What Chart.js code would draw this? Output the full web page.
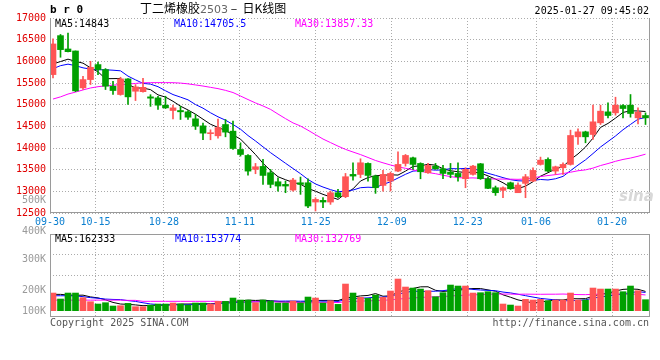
<!DOCTYPE html>
<html>
<head>
<meta charset="utf-8">
<script src="https://cdn.jsdelivr.net/npm/chart.js@4.4.1/dist/chart.umd.min.js"></script>
<style>
  html, body { margin: 0; padding: 0; background: #fff; }
  #wrap { position: relative; width: 660px; height: 360px; overflow: hidden; font-family: "DejaVu Sans Mono", monospace; font-size: 10px; }
  canvas { position: absolute; left: 0; }
  #kline { top: 0; }
  #vol { top: 230px; }
  .t { position: absolute; white-space: nowrap; line-height: 12px; }
  .vl { position: absolute; left: 0; width: 46px; text-align: right; color: #9a9a9a; line-height: 12px; }
</style>
</head>
<body>
<div id="wrap">
  <canvas id="kline" width="660" height="230"></canvas>
  <canvas id="vol" width="660" height="130"></canvas>

  <div class="t" style="left:50px;top:4px;font-size:11px;font-weight:bold;">b r 0</div>
  <div class="t" style="left:140px;top:2px;font-family:'Noto Sans CJK SC',sans-serif;font-size:12px;">丁二烯橡胶<span style="font-family:'DejaVu Sans',sans-serif;font-size:11px;color:#666;">2503</span> –&nbsp;&nbsp;日K线图</div>
  <div class="t" style="right:11px;top:5px;">2025-01-27 09:45:02</div>

  <div class="t" style="left:55px;top:18px;color:#000;">MA5:14843</div>
  <div class="t" style="left:174px;top:18px;color:#0000ff;">MA10:14705.5</div>
  <div class="t" style="left:295px;top:18px;color:#ff00ff;">MA30:13857.33</div>

  <div class="t" style="left:55px;top:233px;color:#000;">MA5:162333</div>
  <div class="t" style="left:175px;top:233px;color:#0000ff;">MA10:153774</div>
  <div class="t" style="left:295px;top:233px;color:#ff00ff;">MA30:132769</div>

  <div class="vl" style="top:194px;">500K</div>
  <div class="vl" style="top:225px;">400K</div>
  <div class="vl" style="top:253px;">300K</div>
  <div class="vl" style="top:284px;">200K</div>
  <div class="vl" style="top:305px;">100K</div>

  <div class="t" style="left:619px;top:190px;font-family:'DejaVu Sans',sans-serif;font-size:15px;font-weight:bold;font-style:italic;color:#d8d8d8;">sina</div>

  <div class="t" style="left:50px;top:317px;color:#555;">Copyright 2025 SINA.COM</div>
  <div class="t" style="right:11px;top:317px;color:#555;">http://finance.sina.com.cn</div>
</div>

<script>
var dates = [
	'09-30',
	'10-08', '10-09', '10-10', '10-11', '10-14', '10-15', '10-16', '10-17', '10-18', '10-21', '10-22', '10-23', '10-24', '10-25', '10-28', '10-29', '10-30', '10-31',
	'11-01', '11-04', '11-05', '11-06', '11-07', '11-08', '11-11', '11-12', '11-13', '11-14', '11-15', '11-18', '11-19', '11-20', '11-21', '11-22', '11-25', '11-26', '11-27', '11-28', '11-29',
	'12-02', '12-03', '12-04', '12-05', '12-06', '12-09', '12-10', '12-11', '12-12', '12-13', '12-16', '12-17', '12-18', '12-19', '12-20', '12-23', '12-24', '12-25', '12-26', '12-27', '12-30', '12-31',
	'01-02', '01-03', '01-06', '01-07', '01-08', '01-09', '01-10', '01-13', '01-14', '01-15', '01-16', '01-17', '01-20', '01-21', '01-22', '01-23', '01-24', '01-27'
];
var tickDates = ['09-30', '10-15', '10-28', '11-11', '11-25', '12-09', '12-23', '01-06', '01-20'];

var openP = [15694, 16593, 16285, 16239, 15387, 15579, 15925, 15810, 15426, 15234,
	15595, 15310, 15300, 15180, 15157, 14988, 14865, 14865, 14835, 14673,
	14511, 14330, 14281, 14542, 14389, 13966, 13828, 13506, 13575, 13429,
	13221, 13160, 13029, 13198, 13198, 12753, 12791, 12753, 12968, 12876,
	13391, 13390, 13644, 13352, 13137, 13237, 13467, 13644, 13774, 13644,
	13429, 13582, 13521, 13444, 13413, 13291, 13391, 13636, 13291, 13083,
	13022, 13198, 12968, 13183, 13237, 13621, 13736, 13467, 13544, 13621,
	14258, 14373, 14312, 14581, 14834, 14811, 14980, 14988, 14696, 14750];
var highP = [16520, 16620, 16650, 16240, 15656, 16002, 15980, 15833, 15540, 15633,
	15600, 15464, 15610, 15230, 15195, 15195, 14988, 14965, 14865, 14773,
	14574, 14420, 14666, 14658, 14619, 14120, 13851, 13644, 13736, 13506,
	13314, 13237, 13298, 13329, 13290, 12853, 12853, 13006, 13045, 13413,
	13659, 13751, 13659, 13375, 13483, 13444, 13913, 13851, 13790, 13659,
	13644, 13644, 13598, 13644, 13659, 13544, 13598, 13644, 13329, 13122,
	13106, 13214, 13198, 13390, 13544, 13790, 13774, 13582, 13659, 14412,
	14443, 14389, 14988, 14988, 15042, 15172, 15003, 15234, 14927, 14811];
var lowP = [15620, 16094, 16220, 15300, 15349, 15464, 15690, 15349, 15234, 15218,
	15003, 15095, 15290, 14960, 14888, 14911, 14673, 14658, 14658, 14427,
	14190, 14190, 14228, 14258, 13966, 13813, 13375, 13406, 13160, 13083,
	13006, 12968, 13006, 12930, 12622, 12546, 12622, 12699, 12853, 12853,
	13260, 13314, 13237, 12953, 13006, 13006, 13452, 13582, 13506, 13290,
	13413, 13506, 13291, 13314, 13237, 13083, 13375, 13275, 13060, 12906,
	12853, 13045, 12968, 12853, 13222, 13605, 13452, 13390, 13390, 13605,
	14082, 14120, 14197, 14542, 14696, 14757, 14696, 14711, 14558, 14542];
var closeP = [16401, 16270, 16223, 15318, 15579, 15863, 15810, 15426, 15326, 15595,
	15180, 15410, 15400, 15150, 14988, 14926, 14926, 14835, 14711, 14504,
	14343, 14345, 14472, 14366, 13989, 13851, 13467, 13567, 13367, 13160,
	13122, 13122, 13260, 13160, 12661, 12814, 12753, 12968, 12876, 13337,
	13352, 13659, 13367, 13083, 13390, 13413, 13621, 13828, 13621, 13452,
	13598, 13521, 13413, 13391, 13337, 13506, 13582, 13291, 13068, 12968,
	13083, 13060, 13145, 13337, 13483, 13720, 13467, 13567, 13621, 14289,
	14373, 14258, 14604, 14850, 14750, 14988, 14911, 14796, 14827, 14696];

var ma5 = [15940, 15995, 16050, 16000, 15958, 15851, 15759, 15599, 15601, 15604,
	15467, 15387, 15382, 15347, 15226, 15175, 15078, 14965, 14877, 14780,
	14664, 14548, 14475, 14406, 14303, 14205, 14029, 13848, 13648, 13482,
	13337, 13268, 13206, 13165, 13065, 13003, 12930, 12871, 12814, 12950,
	13057, 13238, 13318, 13360, 13370, 13382, 13375, 13467, 13575, 13587,
	13624, 13604, 13521, 13475, 13452, 13434, 13446, 13421, 13357, 13283,
	13198, 13094, 13065, 13119, 13222, 13349, 13430, 13515, 13572, 13733,
	13863, 14022, 14229, 14475, 14567, 14690, 14821, 14859, 14854, 14843];
var ma10 = [15830, 15900, 15935, 15900, 15850, 15820, 15805, 15805, 15795, 15781,
	15659, 15573, 15491, 15474, 15415, 15321, 15233, 15174, 15112, 15003,
	14919, 14813, 14720, 14642, 14542, 14434, 14288, 14162, 14027, 13893,
	13771, 13648, 13527, 13407, 13274, 13170, 13099, 13039, 12990, 13007,
	13030, 13084, 13095, 13087, 13160, 13220, 13307, 13393, 13467, 13479,
	13503, 13489, 13494, 13525, 13520, 13529, 13525, 13471, 13416, 13368,
	13316, 13270, 13243, 13238, 13252, 13274, 13262, 13290, 13345, 13477,
	13606, 13726, 13872, 14023, 14150, 14277, 14421, 14544, 14665, 14705];
var ma30 = [15130, 15180, 15245, 15290, 15340, 15385, 15415, 15435, 15450, 15462,
	15474, 15490, 15505, 15508, 15509, 15509, 15507, 15498, 15480, 15455,
	15430, 15400, 15370, 15330, 15280, 15200, 15118, 15040, 14970, 14892,
	14783, 14678, 14579, 14507, 14410, 14308, 14207, 14125, 14043, 13968,
	13907, 13848, 13781, 13712, 13658, 13608, 13565, 13531, 13495, 13460,
	13435, 13407, 13372, 13339, 13318, 13306, 13310, 13301, 13291, 13284,
	13283, 13281, 13277, 13283, 13311, 13341, 13365, 13385, 13409, 13441,
	13475, 13495, 13536, 13595, 13641, 13693, 13736, 13768, 13809, 13857];

var volume = [148800, 98300, 148800, 148800, 109500, 75800, 56200, 67400, 39300, 42100,
	61800, 33700, 33700, 47700, 56200, 56200, 64600, 56200, 47700, 64600,
	64600, 56200, 78600, 78600, 106700, 89900, 89900, 67400, 89900, 81400,
	64600, 64600, 81400, 64600, 115100, 106700, 64600, 84200, 53400, 224600,
	148800, 112300, 103900, 132000, 112300, 165700, 266800, 199400, 190900, 182500,
	168500, 117900, 151600, 216200, 207800, 207800, 148800, 151600, 160100, 151600,
	56200, 47700, 39300, 95500, 89900, 95500, 84200, 89900, 89900, 148800,
	89900, 89900, 190900, 182500, 182500, 182500, 160100, 207800, 168500, 92700];
var volMa5 = [137600, 137600, 132000, 130000, 130900, 116300, 107800, 91500, 69600, 56200,
	53400, 48900, 42100, 43800, 46600, 45500, 51700, 56200, 56200, 57800,
	59500, 57800, 62300, 68500, 76900, 82000, 88700, 86500, 88700, 83700,
	78600, 73600, 76400, 71300, 78100, 86500, 86500, 87000, 84800, 106700,
	115100, 124700, 128600, 144300, 121900, 125200, 156100, 175200, 187000, 201100,
	201600, 171900, 162300, 167400, 172400, 180300, 186500, 186500, 175200, 164000,
	133700, 113400, 91000, 78100, 65700, 73600, 80900, 91000, 89900, 101700,
	100500, 101700, 121900, 140400, 147100, 165700, 179700, 183100, 180300, 162300];
var volMa10 = [126000, 126000, 126000, 125000, 118000, 110000, 105000, 98000, 95000, 93500,
	84800, 78300, 66800, 56700, 51400, 49400, 50300, 49100, 50000, 52200,
	52500, 54800, 59200, 62300, 67400, 70800, 73300, 74400, 78600, 80300,
	80300, 81200, 81400, 80000, 80900, 82600, 80000, 81700, 78100, 92400,
	100800, 105600, 107800, 114600, 114300, 120200, 140400, 151900, 165700, 161500,
	163400, 164000, 168800, 177200, 186700, 190900, 179200, 174400, 171300, 168200,
	157000, 149900, 138700, 126600, 114800, 103600, 97200, 91000, 84000, 83700,
	87000, 91300, 106400, 115100, 124400, 133100, 140700, 152500, 160300, 153800];
var volMa30 = [89000, 89000, 89000, 89000, 89000, 89000, 89000, 89000, 89000, 89000,
	87000, 87000, 79000, 79000, 79000, 79000, 79000, 79000, 79000, 79000,
	79000, 79000, 79000, 75000, 75000, 75000, 75000, 75000, 75000, 75300,
	72500, 71400, 69200, 66400, 66600, 67600, 67900, 68400, 68900, 75000,
	77900, 80500, 82800, 85600, 87500, 91200, 97900, 102700, 107500, 111400,
	114800, 116900, 119300, 123900, 127300, 131200, 133200, 136000, 138300, 140700,
	140400, 139800, 138400, 139500, 138600, 138200, 138900, 139100, 140300, 137800,
	135800, 135100, 138000, 139700, 142000, 142600, 139000, 139300, 138500, 132800];

var RED = '#ff5555';
var GREEN = '#00a000';
var GRID = '#ababab';
var FRAME = '#9a9a9a';
var monoFont = { family: 'DejaVu Sans Mono', size: 10 };

// candle slots: 80 per panel width; date gridlines use 79 steps like the original
function slot(i) { return i + 0.4; }
function candleColor(i) { return closeP[i] >= openP[i] ? RED : GREEN; }
var colors = closeP.map(function (c, i) { return candleColor(i); });

function series(arr) {
	return arr.map(function (v, i) { return { x: slot(i), y: v }; });
}
function maLine(arr, color) {
	return {
		type: 'line', xAxisID: 'xc', data: series(arr), borderColor: color,
		borderWidth: 1, pointRadius: 0, tension: 0, fill: false
	};
}

var framePlugin = {
	id: 'frame',
	afterDraw: function (chart, args, opts) {
		var ctx = chart.ctx, a = chart.chartArea;
		ctx.save();
		ctx.strokeStyle = FRAME;
		ctx.lineWidth = 1;
		ctx.beginPath();
		if (opts.top) {
			ctx.moveTo(a.left + 0.5, a.top + 0.5);
			ctx.lineTo(a.right - 0.5, a.top + 0.5);
		}
		ctx.moveTo(a.left + 0.5, a.top);
		ctx.lineTo(a.left + 0.5, a.bottom);
		ctx.moveTo(a.right - 0.5, a.top);
		ctx.lineTo(a.right - 0.5, a.bottom);
		ctx.moveTo(a.left, a.bottom - 0.5);
		ctx.lineTo(a.right, a.bottom - 0.5);
		ctx.stroke();
		ctx.restore();
	}
};

function candleAxis() {
	return { type: 'linear', min: 0, max: dates.length, offset: false, display: false };
}

function dateAxis(showLabels, height) {
	return {
		type: 'linear', position: 'bottom', min: 0, max: dates.length - 1, offset: false,
		afterBuildTicks: function (axis) {
			axis.ticks = tickDates.map(function (d) { return { value: dates.indexOf(d) }; });
		},
		afterFit: function (axis) { axis.height = height; },
		grid: { color: GRID, drawTicks: false, offset: false },
		border: { display: false, dash: [1, 2] },
		ticks: {
			display: showLabels, color: '#0b7fd0', font: monoFont, padding: 3,
			maxRotation: 0, autoSkip: false,
			callback: function (v) { return dates[v]; }
		}
	};
}

function start() {
	Chart.defaults.font.family = 'DejaVu Sans Mono';

	var ctx = document.getElementById('kline').getContext('2d');
	var kline = new Chart(ctx, {
		type: 'bar',
		data: {
			datasets: [
				{
					xAxisID: 'xc',
					data: lowP.map(function (l, i) { return { x: slot(i), y: [l, highP[i]] }; }),
					backgroundColor: colors, barThickness: 1, grouped: false
				},
				{
					xAxisID: 'xc',
					data: openP.map(function (o, i) { return { x: slot(i), y: [o, closeP[i]] }; }),
					backgroundColor: colors, barThickness: 6, minBarLength: 1, grouped: false
				},
				maLine(ma30, '#ff00ff'),
				maLine(ma10, '#0000ff'),
				maLine(ma5, '#000000')
			]
		},
		options: {
			responsive: false,
			animation: false,
			layout: { padding: { top: 18, right: 10, left: 0, bottom: 0 } },
			plugins: { legend: { display: false }, tooltip: { enabled: false }, frame: { top: false } },
			scales: {
				xc: candleAxis(),
				xd: dateAxis(true, 17),
				y: {
					min: 12500, max: 17000,
					afterFit: function (axis) { axis.width = 50; },
					grid: { color: GRID, drawTicks: false },
					border: { display: false, dash: [1, 2] },
					ticks: {
						stepSize: 500, color: '#e00000', font: monoFont, padding: 4,
						callback: function (v) { return String(v); }
					}
				}
			}
		},
		plugins: [framePlugin]
	});

	var volMin = -53100, volMax = 646200;
	var ctx2 = document.getElementById('vol').getContext('2d');
	var vol = new Chart(ctx2, {
		type: 'bar',
		data: {
			datasets: [
				{
					xAxisID: 'xc', data: series(volume),
					backgroundColor: colors, barThickness: 6, grouped: false
				},
				maLine(volMa30, '#ff00ff'),
				maLine(volMa10, '#0000ff'),
				maLine(volMa5, '#000000')
			]
		},
		options: {
			responsive: false,
			animation: false,
			layout: { padding: { top: 4, right: 10, left: 0, bottom: 43 } },
			plugins: { legend: { display: false }, tooltip: { enabled: false }, frame: { top: true } },
			scales: {
				xc: candleAxis(),
				xd: dateAxis(false, 0),
				y: {
					min: volMin, max: volMax,
					afterFit: function (axis) { axis.width = 50; },
					afterBuildTicks: function (axis) {
						var step = (volMax - volMin) / 4;
						axis.ticks = [{ value: volMax - step }, { value: volMax - 2 * step }];
					},
					grid: { color: GRID, drawTicks: false },
					border: { display: false, dash: [1, 2] },
					ticks: { display: false }
				}
			}
		},
		plugins: [framePlugin]
	});
}

window.onload = start;
</script>
</body>
</html>
